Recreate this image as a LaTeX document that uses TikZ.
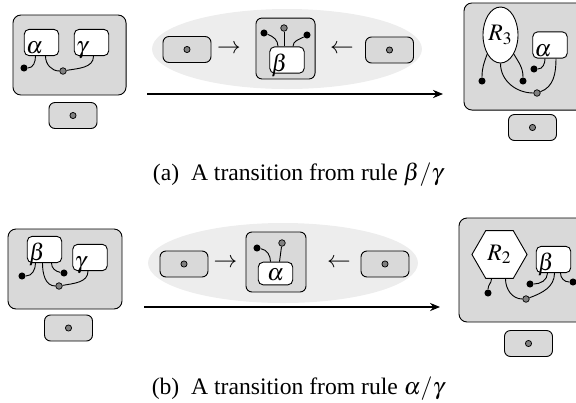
\documentclass[tikz,border=0pt]{standalone}
\usepackage{mathptmx}
\usepackage{fontspec}
\setmainfont{Liberation Serif}
\usetikzlibrary{shapes.geometric,calc,arrows.meta}

\begin{document}
\begin{tikzpicture}[x=0.55pt, y=-0.55pt, font=\fontsize{13}{15}\selectfont,
    statebox/.style={draw, fill=gray!30, rounded corners=4.4pt, line width=0.5pt, inner sep=0pt},
    innerbox/.style={draw, fill=white, rounded corners=2.75pt, line width=0.5pt, inner xsep=1pt, inner ysep=1pt,
        text width=17pt, align=left, text height=12.5pt, text depth=0pt},
    sitebox/.style={draw, fill=gray!30, rounded corners=3.3pt, line width=0.5pt, minimum width=26.4pt, minimum height=14.3pt,
        path picture={\filldraw[fill=gray, draw=black, line width=0.4pt] (path picture bounding box.center) circle (1.7pt);}},
    bdot/.style={circle, fill=black, inner sep=0pt, minimum size=3.9pt},
    gdot/.style={circle, draw, fill=gray, line width=0.4pt, inner sep=0pt, minimum size=3.6pt},
    wire/.style={line width=0.5pt},
    bigarrow/.style={line width=0.6pt, -{Stealth[length=5.5pt, width=4.5pt]}}]
    \clip (0,0) rectangle (576,402);

    % (a) Start state
    \node[statebox, minimum width=62.2pt, minimum height=44pt] (L1) at (69.5,55) {};
    \node[innerbox] (a1) at (41.5,42.5) {$\alpha$};
    \node[innerbox] (c1) at (91.5,42.5) {$\gamma$};
    \node[bdot] (d1) at (24,68) {};
    \node[gdot] (g1) at (63,71) {};
    \draw[wire] ($(a1.south)+(-6,0)$) to[out=-90, in=0] (d1);
    \draw[wire] ($(a1.south)+(4,0)$) to[out=-90, in=180] (g1);
    \draw[wire] ($(c1.south)+(2,0)$) to[out=-90, in=10] (g1);
    \node[sitebox] (sa1) at (73,115.5) {};

    % (a) Rule
    \node[ellipse, fill=gray!14, minimum width=148.5pt, minimum height=44pt] (e1) at (287,49) {};
    \node[sitebox] (sa2) at (187,49.5) {};
    \node (ra1) at (229,49) {$\rightarrow$};
    \node[statebox, minimum width=32.5pt, minimum height=33.5pt, rounded corners=3.3pt] (m1) at (285.5,48.5) {};
    \node[innerbox] (b2) at (287,60) {$\beta$};
    \node[bdot] (d2) at (264,33) {};
    \node[gdot] (g2) at (284,28) {};
    \node[bdot] (d3) at (307,35) {};
    \draw[wire] ($(b2.north)+(-9,0)$) to[out=90, in=-20] (d2);
    \draw[wire] ($(b2.north)+(-3,0)$) -- (g2);
    \draw[wire] ($(b2.north)+(6,0)$) to[out=90, in=210] (d3);
    \node (la1) at (342,49) {$\leftarrow$};
    \node[sitebox] (sa3) at (389.5,50) {};

    % (a) Transition
    \coordinate (s1) at (147,94);
    \coordinate (t1) at (443,94);
    \draw[bigarrow] (s1) -- (t1);

    % (a) Result state
    \node[statebox, minimum width=72.6pt, minimum height=58.9pt] (R1) at (530,56.5) {};
    \node[ellipse, draw, fill=white, line width=0.5pt, inner sep=0pt, minimum width=19.25pt, minimum height=30.8pt] (r3) at (500.5,35) {$R_3$};
    \node[innerbox] (a3) at (550,45) {$\alpha$};
    \node[bdot] (d4) at (482,81) {};
    \node[bdot] (d5) at (523,81) {};
    \node[bdot] (d6) at (534,69) {};
    \node[gdot] (g3) at (537,93) {};
    \draw[wire] (r3.235) to[out=-110, in=90] (d4);
    \draw[wire] (r3.south) to[out=-90, in=180] (g3);
    \draw[wire] (r3.-55) to[out=-60, in=90] (d5);
    \draw[wire] ($(a3.south)+(-5,0)$) to[out=-90, in=0] (d6);
    \draw[wire] ($(a3.south)+(6,0)$) to[out=-90, in=20] (g3);
    \node[sitebox] (sa4) at (532.5,127.5) {};

    \node[anchor=base] (cap1) at (298,180) {(a)\enspace A transition from rule $\beta/\gamma$};

    % (b) Start state
    \node[statebox, minimum width=62.7pt, minimum height=44pt] (L2) at (65,269) {};
    \node[innerbox] (b4) at (44.5,249.5) {$\beta$};
    \node[innerbox] (c4) at (90,257.5) {$\gamma$};
    \node[bdot] (d7) at (22,276) {};
    \node[bdot] (d8) at (64,273) {};
    \node[gdot] (g4) at (59,286) {};
    \draw[wire] ($(b4.south)+(-9,0)$) to[out=-90, in=0] (d7);
    \draw[wire] ($(b4.south)+(-2,0)$) to[out=-90, in=180] (g4);
    \draw[wire] ($(b4.south)+(7,0)$) to[out=-90, in=170] (d8);
    \draw[wire] ($(c4.south)+(-2,0)$) to[out=-90, in=10] (g4);
    \node[sitebox] (sb1) at (68.5,328) {};

    % (b) Rule
    \node[ellipse, fill=gray!14, minimum width=148.5pt, minimum height=44pt] (e2) at (283,263) {};
    \node[sitebox] (sb2) at (184,264) {};
    \node (ra2) at (225.5,263) {$\rightarrow$};
    \node[statebox, minimum width=33pt, minimum height=33pt, rounded corners=3.3pt] (m2) at (276,262) {};
    \node[innerbox, align=center, text height=9pt, text depth=1.5pt] (a5) at (275.5,273.5) {$\alpha$};
    \node[bdot] (d9) at (257,248) {};
    \node[gdot] (g5) at (282,243) {};
    \draw[wire] ($(a5.north)+(-5,0)$) to[out=90, in=-10] (d9);
    \draw[wire] ($(a5.north)+(4,0)$) -- (g5);
    \node (la2) at (339,263) {$\leftarrow$};
    \node[sitebox] (sb3) at (385,264) {};

    % (b) Transition
    \coordinate (s2) at (144,307);
    \coordinate (t2) at (440,307);
    \draw[bigarrow] (s2) -- (t2);

    % (b) Result state
    \node[statebox, minimum width=72.6pt, minimum height=57.2pt] (R2) at (525,270) {};
    \node[regular polygon, regular polygon sides=6, draw, fill=white, line width=0.5pt, inner sep=0pt, minimum size=30.3pt] (r2) at (499.5,254.5) {$R_2$};
    \node[innerbox] (b6) at (553.5,259.5) {$\beta$};
    \node[bdot] (d10) at (488,293) {};
    \node[bdot] (d11) at (530,284) {};
    \node[bdot] (d12) at (573,282) {};
    \node[gdot] (g6) at (526,299) {};
    \draw[wire] ($(r2.south)+(-8,0)$) to[out=-90, in=90] (d10);
    \draw[wire] ($(r2.south)+(6,0)$) to[out=-90, in=180] (g6);
    \draw[wire] ($(b6.south)+(-6,0)$) to[out=-90, in=0] (d11);
    \draw[wire] ($(b6.south)+(1,0)$) to[out=-90, in=20] (g6);
    \draw[wire] ($(b6.south)+(7,0)$) to[out=-90, in=180] (d12);
    \node[sitebox] (sb4) at (528.5,343.5) {};

    \node[anchor=base] (cap2) at (298,394) {(b)\enspace A transition from rule $\alpha/\gamma$};
\end{tikzpicture}
\end{document}
